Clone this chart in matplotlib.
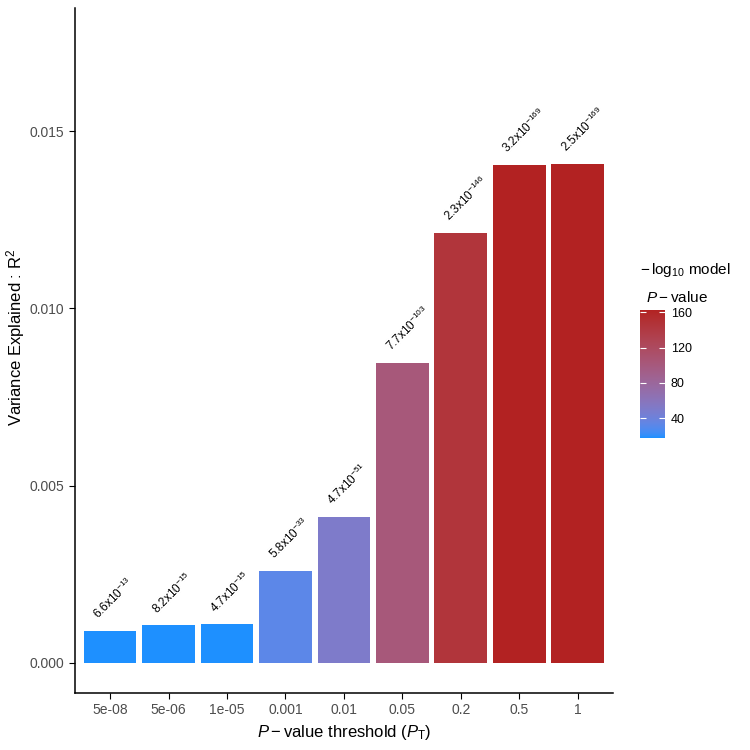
import numpy as np
import matplotlib
matplotlib.use("Agg")
import matplotlib.pyplot as plt
from matplotlib.colors import ListedColormap, Normalize
from matplotlib.cm import ScalarMappable

plt.rcParams["font.family"] = ["Liberation Sans", "DejaVu Sans"]
plt.rcParams["mathtext.fontset"] = "custom"
plt.rcParams["mathtext.rm"] = "Liberation Sans"
plt.rcParams["mathtext.it"] = "Liberation Sans:italic"

thresholds = ["5e-08", "5e-06", "1e-05", "0.001", "0.01", "0.05", "0.2", "0.5", "1"]
r2 = [0.00091, 0.00106, 0.00109, 0.00259, 0.00412, 0.00847, 0.01214, 0.01406, 0.01407]
p_mant = [6.6, 8.2, 4.7, 5.8, 4.7, 7.7, 2.3, 3.2, 2.5]
p_exp = [-13, -15, -15, -33, -51, -103, -146, -169, -169]
cbar_ticks = [40, 80, 120, 160]


# ggplot style gradient: interpolate in CIELAB
def to_lab(rgb):
    c = np.asarray(rgb, float)
    c = np.where(c > 0.04045, ((c + 0.055) / 1.055) ** 2.4, c / 12.92)
    m = np.array([[0.4124, 0.3576, 0.1805],
                  [0.2126, 0.7152, 0.0722],
                  [0.0193, 0.1192, 0.9505]])
    xyz = m @ c / np.array([0.95047, 1.0, 1.08883])
    f = np.where(xyz > 0.008856, np.cbrt(xyz), 7.787 * xyz + 16 / 116)
    return np.array([116 * f[1] - 16, 500 * (f[0] - f[1]), 200 * (f[1] - f[2])])


def from_lab(lab):
    fy = (lab[0] + 16) / 116
    fx = fy + lab[1] / 500
    fz = fy - lab[2] / 200
    f = np.array([fx, fy, fz])
    xyz = np.where(f ** 3 > 0.008856, f ** 3, (f - 16 / 116) / 7.787)
    xyz = xyz * np.array([0.95047, 1.0, 1.08883])
    mi = np.array([[3.2406, -1.5372, -0.4986],
                   [-0.9689, 1.8758, 0.0415],
                   [0.0557, -0.2040, 1.0570]])
    c = mi @ xyz
    c = np.where(c > 0.0031308, 1.055 * np.clip(c, 0, None) ** (1 / 2.4) - 0.055, 12.92 * c)
    return np.clip(c, 0, 1)


low = to_lab(matplotlib.colors.to_rgb("dodgerblue"))
high = to_lab(matplotlib.colors.to_rgb("firebrick"))
cmap = ListedColormap([from_lab(low + t * (high - low)) for t in np.linspace(0, 1, 256)])
norm = Normalize(vmin=17.5, vmax=163, clip=True)

logp = [-np.log10(m * 10.0 ** e) for m, e in zip(p_mant, p_exp)]
colors = [cmap(norm(v)) for v in logp]

fig = plt.figure(figsize=(7.5, 7.5), dpi=100)
ax = fig.add_axes([0.1, 0.076, 0.717, 0.913])
x = np.arange(len(thresholds))
ax.bar(x, r2, width=0.9, color=colors)

for i in range(len(x)):
    ax.annotate(f"{p_mant[i]}x10$^{{{p_exp[i]}}}$", (x[i], r2[i]),
                xytext=(-6.5, 6.5), textcoords="offset points",
                rotation=45, rotation_mode="anchor", ha="left", va="bottom",
                fontsize=8.5, color="black")

ax.set_xlim(-0.6, 8.6)
ax.set_ylim(-0.00085, 0.01847)
ax.set_xticks(x)
ax.set_xticklabels(thresholds)
ax.set_yticks([0, 0.005, 0.010, 0.015])
ax.set_yticklabels(["0.000", "0.005", "0.010", "0.015"])
ax.tick_params(labelsize=10, labelcolor="#4D4D4D", length=4, width=0.8)
for s in ["top", "right"]:
    ax.spines[s].set_visible(False)
for s in ["left", "bottom"]:
    ax.spines[s].set_linewidth(1.1)
ax.set_xlabel(r"$P-$value threshold ($P_{\mathrm{T}}$)", fontsize=12)
ax.set_ylabel(r"Variance Explained : $\mathrm{R}^2$", fontsize=12)
ax.yaxis.set_label_coords(-0.09, 0.52)

cax = fig.add_axes([0.853, 0.416, 0.034, 0.171])
cb = fig.colorbar(ScalarMappable(norm=norm, cmap=cmap), cax=cax)
cb.outline.set_visible(False)
cb.set_ticks(cbar_ticks)
cax.yaxis.set_ticks_position("both")
cax.tick_params(which="both", direction="in", color="white", length=4,
                width=0.8, labelsize=9, labelcolor="black", labelleft=False,
                labelright=True, pad=4)
fig.text(0.853, 0.640, r"$-\,\mathrm{log}_{10}$ model", fontsize=11, ha="left", va="center")
fig.text(0.862, 0.604, r"$P-$value", fontsize=11, ha="left", va="center")

fig.savefig("out.png")
